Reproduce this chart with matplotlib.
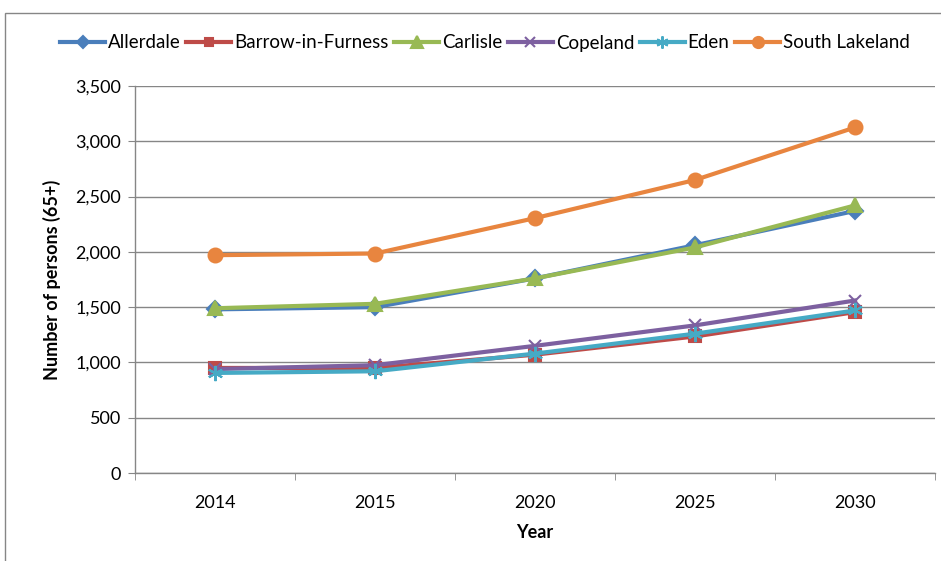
import matplotlib.pyplot as plt
from matplotlib.patches import Rectangle

years = ["2014", "2015", "2020", "2025", "2030"]
allerdale = [1480, 1500, 1760, 2060, 2370]
barrow = [950, 950, 1070, 1235, 1455]
carlisle = [1490, 1530, 1760, 2040, 2420]
copeland = [940, 975, 1150, 1335, 1560]
eden = [905, 920, 1080, 1260, 1470]
south_lakeland = [1970, 1985, 2305, 2650, 3125]

plt.rcParams['font.family'] = ['Lato', 'DejaVu Sans']

fig = plt.figure(figsize=(9.41, 5.61), dpi=100)
ax = fig.add_axes([135/941, 1-473/561, (935-135)/941, (473-86)/561])

# chart frame (only top/left visible in the source)
fig.patches.append(Rectangle((5/941, -0.1), 1.2, (561-13)/561 + 0.1,
                             transform=fig.transFigure, fill=False,
                             edgecolor='#868686', lw=1))

x = list(range(len(years)))
series = [
    ("Allerdale", allerdale, '#4A7EBB', 'D', 8),
    ("Barrow-in-Furness", barrow, '#BE4B48', 's', 8),
    ("Carlisle", carlisle, '#98B954', '^', 10),
    ("Copeland", copeland, '#7D60A0', 'x', 9),
    ("Eden", eden, '#46AAC5', (6, 2, 0), 11),
    ("South Lakeland", south_lakeland, '#E8853F', 'o', 10),
]
for name, vals, col, mk, ms in series:
    ax.plot(x, vals, color=col, lw=3, marker=mk, markersize=ms,
            markeredgecolor=col, markeredgewidth=1.5, label=name)

ax.set_xlim(-0.5, 4.5)
ax.set_ylim(0, 3500)
ax.set_yticks(range(0, 3501, 500))
ax.set_yticklabels([f"{v:,}" for v in range(0, 3501, 500)])
ax.set_xticks(x)
ax.set_xticklabels(years)
ax.set_xticks([i - 0.5 for i in range(6)], minor=True)
ax.tick_params(axis='x', which='major', length=0, pad=16, labelsize=13)
ax.tick_params(axis='x', which='minor', length=5, color='#868686')
ax.tick_params(axis='y', length=5, color='#868686', labelsize=13, pad=5)
ax.grid(axis='y', color='#868686', lw=1)
ax.set_axisbelow(True)
for s in ['top', 'right']:
    ax.spines[s].set_visible(False)
for s in ['left', 'bottom']:
    ax.spines[s].set_color('#868686')
    ax.spines[s].set_linewidth(1)

ax.set_xlabel("Year", fontsize=13, fontweight='bold', labelpad=9)
ax.set_ylabel("Number of persons (65+)", fontsize=13, fontweight='bold', labelpad=10)

ax.legend(loc='center', bbox_to_anchor=(485/941, 1-43/561), bbox_transform=fig.transFigure,
          ncol=6, frameon=False, fontsize=13.5, handlelength=2.4, handletextpad=0.15,
          columnspacing=0.3, markerscale=0.8)

fig.savefig("out.png", dpi=100)
